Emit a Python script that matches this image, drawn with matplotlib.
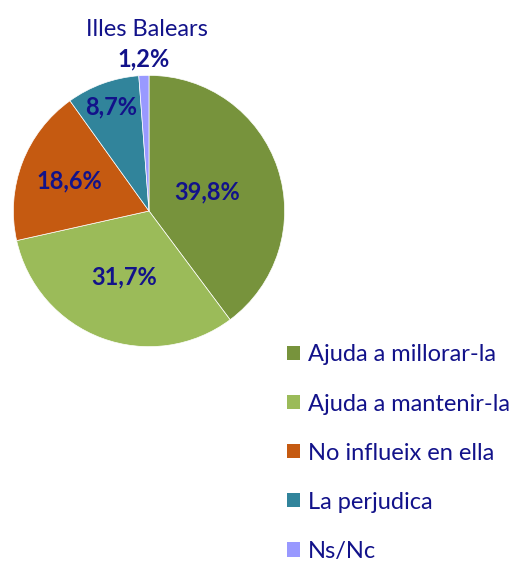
import numpy as np
import matplotlib
matplotlib.use("Agg")
import matplotlib.pyplot as plt
from matplotlib.patches import Patch

plt.rcParams["font.family"] = ["Lato", "DejaVu Sans"]

categories = ["Ajuda a millorar-la", "Ajuda a mantenir-la", "No influeix en ella",
              "La perjudica", "Ns/Nc"]
values = [39.8, 31.7, 18.6, 8.7, 1.2]
labels = ["39,8%", "31,7%", "18,6%", "8,7%", "1,2%"]
colors = ["#77933C", "#9BBB59", "#C55A11", "#31849B", "#9999FF"]
title = "Illes Balears"

text_color = "#12128A"
label_dist = [0.45, 0.52, 0.63, 0.82, 1.12]

W, H = 517, 563
fig = plt.figure(figsize=(W / 100, H / 100), dpi=100)
# pie box: x 12..286, y 74..348 (pixels)
ax = fig.add_axes([12 / W, (H - 348) / H, 274 / W, 274 / H])
wedges, _ = ax.pie(values, colors=colors, startangle=90, counterclock=False,
                   radius=1.0, wedgeprops=dict(linewidth=0.5, edgecolor="white"))
ax.set_xlim(-1.01, 1.01)
ax.set_ylim(-1.01, 1.01)
ax.set_aspect("equal")
ax.axis("off")

for w, lab, d in zip(wedges, labels, label_dist):
    ang = np.deg2rad((w.theta1 + w.theta2) / 2)
    ax.text(d * np.cos(ang), d * np.sin(ang), lab, ha="center", va="center",
            fontsize=17, fontweight="bold", color=text_color)

fig.text(147 / W, 1 - 29 / H, title, ha="center", va="center",
         fontsize=17, color=text_color)

handles = [Patch(facecolor=c, edgecolor="none") for c in colors]
leg = fig.legend(handles, categories, loc="upper left",
                 bbox_to_anchor=(278 / W, 1 - 335 / H), frameon=False,
                 fontsize=17, labelspacing=1.19, handlelength=0.55,
                 handleheight=0.55, handletextpad=0.3, borderaxespad=0)
for t in leg.get_texts():
    t.set_color(text_color)

fig.savefig("out.png", dpi=100, facecolor="white")
